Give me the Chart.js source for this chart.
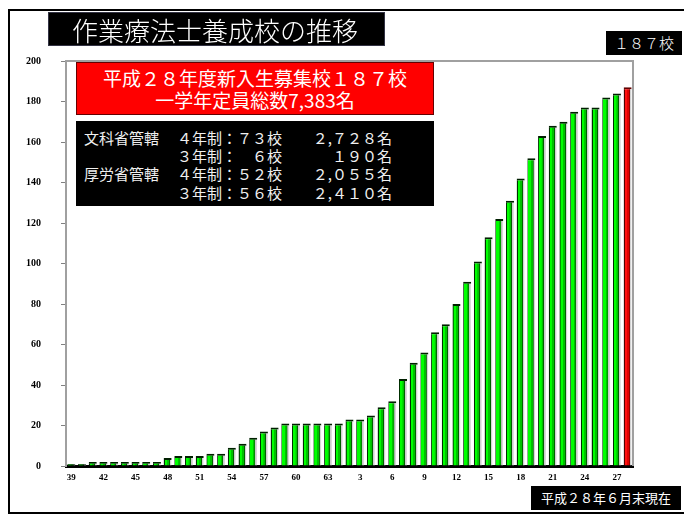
<!DOCTYPE html>
<html lang="ja">
<head>
<meta charset="utf-8">
<script src="https://cdn.jsdelivr.net/npm/chart.js"></script>
<style>
  body {
    margin: 0;
    width: 684px;
    height: 519px;
    background: #fff;
    position: relative;
    overflow: hidden;
    font-family: 'Noto Sans CJK JP', sans-serif;
  }
  .frame {
    position: absolute;
    left: 8px;
    top: 9px;
    width: 700px;
    height: 501px;
    border-top: 2px solid #000;
    border-left: 2px solid #000;
    border-bottom: 2px solid #000;
  }
  #wrap {
    position: absolute;
    left: 0;
    top: 0;
    width: 684px;
    height: 519px;
  }
  .box {
    position: absolute;
    background: #000;
    color: #fff;
    white-space: nowrap;
  }
  .title {
    left: 48px;
    top: 12px;
    width: 337px;
    height: 34px;
    font-size: 26px;
    line-height: 34px;
    font-weight: 300;
    padding-left: 23px;
    box-sizing: border-box;
    border: 1px solid #334;
  }
  .total {
    left: 606px;
    top: 31px;
    width: 76px;
    height: 24px;
    font-size: 15px;
    line-height: 24px;
    text-align: center;
    font-weight: 300;
  }
  .asof {
    left: 531px;
    top: 486px;
    width: 150px;
    height: 24px;
    font-size: 13px;
    line-height: 24px;
    text-align: center;
  }
  .redbox {
    position: absolute;
    left: 76px;
    top: 62px;
    width: 358px;
    height: 53px;
    background: #ff0000;
    border: 1px solid #600;
    box-sizing: border-box;
    color: #fff;
    text-align: center;
    font-size: 19px;
    line-height: 22px;
    padding-top: 4px;
    white-space: nowrap;
  }
  .info {
    left: 76px;
    top: 121px;
    width: 358px;
    height: 85px;
    font-size: 15px;
    color: #f0f0f0;
  }
  .info div {
    position: absolute;
    line-height: 18px;
  }
</style>
</head>
<body>
<div id="wrap"><canvas id="otChart" width="684" height="519"></canvas></div>
<div class="frame"></div>

<div class="box title">作業療法士養成校の推移</div>
<div class="box total">１８７校</div>
<div class="box asof">平成２８年６月末現在</div>

<div class="redbox">平成２８年度新入生募集校１８７校<br>一学年定員総数7,383名</div>

<div class="box info">
  <div style="left:8px;top:8px">文科省管轄</div>
  <div style="left:101px;top:8px">４年制：７３校</div>
  <div style="right:42px;top:8px">２,７２８名</div>
  <div style="left:101px;top:26px">３年制：　６校</div>
  <div style="right:42px;top:26px">１９０名</div>
  <div style="left:8px;top:44px">厚労省管轄</div>
  <div style="left:101px;top:44px">４年制：５２校</div>
  <div style="right:42px;top:44px">２,０５５名</div>
  <div style="left:101px;top:63px">３年制：５６校</div>
  <div style="right:42px;top:63px">２,４１０名</div>
</div>

<script>
// 年度 (昭和39年〜昭和63年, 平成元年〜平成28年)
const years = ['39','40','41','42','43','44','45','46','47','48','49','50','51','52','53','54','55','56','57','58','59','60','61','62','63',
  '1','2','3','4','5','6','7','8','9','10','11','12','13','14','15','16','17','18','19','20','21','22','23','24','25','26','27','28'];

// 養成校数
const schools = [1,1,2,2,2,2,2,2,2,4,5,5,5,6,6,9,11,14,17,19,21,21,21,21,21,21,23,23,25,29,32,43,51,56,66,70,80,91,101,113,122,131,142,152,163,168,170,175,177,177,182,184,187];

const yTicks = [0, 20, 40, 60, 80, 100, 120, 140, 160, 180, 200];

// 円柱っぽく見せる横グラデーション
function barFill(ctx) {
  const chart = ctx.chart;
  const xs = chart.scales.x;
  if (!xs || !chart.chartArea) return '#00cc00';
  const cx = xs.getPixelForValue(ctx.dataIndex);
  const g = chart.ctx.createLinearGradient(cx - 4, 0, cx + 4, 0);
  const last = ctx.dataIndex === schools.length - 1;
  const dark = last ? '#500000' : '#003000';
  const bright = last ? '#ff1010' : '#00ff00';
  const mid = last ? '#e00000' : '#00c000';
  const deep = last ? '#900000' : '#006000';
  g.addColorStop(0, dark);
  g.addColorStop(0.12, dark);
  g.addColorStop(0.14, bright);
  g.addColorStop(0.42, bright);
  g.addColorStop(0.46, mid);
  g.addColorStop(0.64, mid);
  g.addColorStop(0.68, deep);
  g.addColorStop(0.76, deep);
  g.addColorStop(0.78, '#c8c8c8');
  g.addColorStop(1, '#e4e4e4');
  return g;
}

// プロット領域の枠 (上と右)
const plotFrame = {
  id: 'plotFrame',
  beforeDatasetsDraw(chart) {
    const { ctx, chartArea: a } = chart;
    ctx.save();
    ctx.strokeStyle = '#a0a0a0';
    ctx.lineWidth = 2;
    ctx.beginPath();
    ctx.moveTo(a.left, a.top);
    ctx.lineTo(a.right, a.top);
    ctx.lineTo(a.right, a.bottom);
    ctx.stroke();
    ctx.restore();
  }
};

new Chart(document.getElementById('otChart'), {
  type: 'bar',
  data: {
    labels: years,
    datasets: [{
      data: schools,
      backgroundColor: barFill,
      borderColor: (c) => c.dataIndex === schools.length - 1 ? '#600000' : '#002000',
      borderWidth: { top: 2, left: 0, right: 0, bottom: 0 },
      borderSkipped: false,
      categoryPercentage: 1,
      barPercentage: 0.75
    }]
  },
  options: {
    responsive: false,
    animation: false,
    devicePixelRatio: 1,
    layout: {
      padding: { left: 10, top: 61, right: 51, bottom: 33 }
    },
    plugins: {
      legend: { display: false },
      tooltip: { enabled: false }
    },
    scales: {
      x: {
        afterFit(s) { s.height = 20; },
        border: { color: '#000', width: 3 },
        grid: { display: false },
        ticks: {
          autoSkip: false,
          maxRotation: 0,
          padding: -2,
          color: '#000',
          font: { family: 'Liberation Sans Narrow', size: 9, weight: 'bold' },
          callback: (v, i) => i % 3 === 0 ? years[i] : ''
        }
      },
      y: {
        min: 0,
        max: 200,
        afterFit(s) { s.width = 56; },
        afterBuildTicks(s) { s.ticks = yTicks.map(v => ({ value: v })); },
        border: { color: '#a0a0a0', width: 2 },
        grid: { drawOnChartArea: false, tickLength: 5, color: '#808080' },
        ticks: {
          padding: 20,
          color: '#000',
          font: { family: 'Liberation Sans Narrow', size: 10, weight: 'bold' }
        }
      }
    }
  },
  plugins: [plotFrame]
});
</script>
</body>
</html>
